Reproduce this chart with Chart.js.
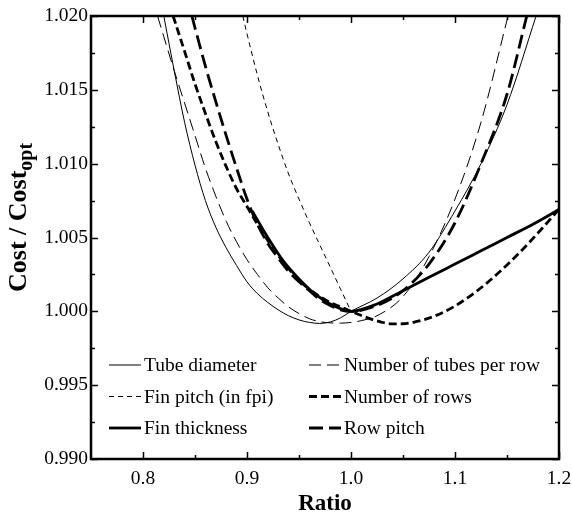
<!DOCTYPE html>
<html>
<head>
<meta charset="utf-8">
<script src="https://cdn.jsdelivr.net/npm/chart.js@4.4.1/dist/chart.umd.min.js"></script>
<style>
  html, body { margin: 0; padding: 0; background: #fff; }
  #wrap { width: 572px; height: 520px; }
</style>
</head>
<body>
<div id="wrap"><canvas id="chart" width="572" height="520"></canvas></div>
<script>
const seriesNames = ['Tube diameter', 'Number of tubes per row', 'Fin pitch (in fpi)', 'Number of rows', 'Fin thickness', 'Row pitch'];

const tubeDiameterRatio = [0.82, 0.83, 0.84, 0.85, 0.86, 0.87, 0.88, 0.89, 0.90, 0.91, 0.92, 0.93, 0.94, 0.95, 0.96, 0.97, 0.98, 0.99, 1.00, 1.025, 1.05, 1.075, 1.10, 1.125, 1.15, 1.178];
const tubeDiameterCost = [1.0200, 1.0163, 1.0128, 1.0099, 1.0075, 1.0057, 1.0043, 1.0031, 1.0020, 1.0012, 1.0006, 1.0001, 0.9997, 0.99942, 0.99925, 0.99918, 0.99928, 0.99956, 1.0000, 1.0009, 1.0022, 1.0040, 1.0068, 1.0100, 1.0140, 1.0200];

const tubesPerRowRatio = [0.814, 0.82, 0.83, 0.84, 0.85, 0.86, 0.87, 0.88, 0.89, 0.90, 0.91, 0.92, 0.93, 0.94, 0.95, 0.96, 0.97, 0.98, 0.99, 1.00, 1.01, 1.025, 1.05, 1.075, 1.10, 1.125, 1.151];
const tubesPerRowCost = [1.0200, 1.0186, 1.0163, 1.0141, 1.0119, 1.0097, 1.0078, 1.0061, 1.0047, 1.0035, 1.0025, 1.0016, 1.0009, 1.0003, 0.99985, 0.9995, 0.9993, 0.99922, 0.9992, 0.99925, 0.99937, 0.9997, 1.0010, 1.0037, 1.0076, 1.0128, 1.0200];

const finPitchRatio = [0.896, 0.90, 0.91, 0.92, 0.93, 0.94, 0.95, 0.96, 0.97, 0.98, 0.99, 1.00];
const finPitchCost = [1.0200, 1.0188, 1.0160, 1.0135, 1.0113, 1.0093, 1.0076, 1.0060, 1.0045, 1.0030, 1.0015, 1.0000];

const rowsRatio = [0.829, 0.84, 0.85, 0.86, 0.87, 0.88, 0.89, 0.90, 0.91, 0.92, 0.93, 0.94, 0.95, 0.96, 0.97, 0.98, 0.99, 1.00, 1.01, 1.02, 1.03, 1.04, 1.05, 1.06, 1.07, 1.08, 1.09, 1.10, 1.11, 1.12, 1.13, 1.14, 1.15, 1.16, 1.17, 1.18, 1.19, 1.20];
const rowsCost = [1.0200, 1.0176, 1.0154, 1.0134, 1.0115, 1.0098, 1.0083, 1.0071, 1.0059, 1.0048, 1.0038, 1.0029, 1.0021, 1.0015, 1.0010, 1.0006, 1.0003, 1.0000, 0.99972, 0.99946, 0.99926, 0.99915, 0.99916, 0.99926, 0.99943, 0.99967, 0.99998, 1.00036, 1.00081, 1.00132, 1.00188, 1.00249, 1.00314, 1.00383, 1.00456, 1.00532, 1.00611, 1.00693];

const finThicknessRatio = [0.905, 0.92, 0.935, 0.95, 0.965, 0.98, 1.00, 1.025, 1.05, 1.075, 1.10, 1.125, 1.15, 1.175, 1.20];
const finThicknessCost = [1.0068, 1.0050, 1.0034, 1.0022, 1.0012, 1.0005, 1.0000, 1.0005, 1.0014, 1.0023, 1.0032, 1.0041, 1.0050, 1.0059, 1.0069];

const rowPitchRatio = [0.847, 0.85, 0.86, 0.87, 0.88, 0.89, 0.90, 0.91, 0.92, 0.93, 0.94, 0.95, 0.96, 0.97, 0.98, 0.99, 1.00, 1.025, 1.05, 1.075, 1.10, 1.125, 1.15, 1.169];
const rowPitchCost = [1.0200, 1.0192, 1.0166, 1.0142, 1.0119, 1.0097, 1.0076, 1.0059, 1.0046, 1.0036, 1.0027, 1.0020, 1.0014, 1.0008, 1.0004, 1.0001, 1.0000, 1.0004, 1.0014, 1.0032, 1.0060, 1.0100, 1.0147, 1.0200];

const xTicks = [0.8, 0.9, 1.0, 1.1, 1.2];
const xMinorTicks = [0.85, 0.95, 1.05, 1.15];
const yTicks = [0.990, 0.995, 1.000, 1.005, 1.010, 1.015, 1.020];
const yMinorTicks = [0.9925, 0.9975, 1.0025, 1.0075, 1.0125, 1.0175];

// line looks, same order as seriesNames
const lineStyles = [
  { width: 1, dash: [] },
  { width: 1, dash: [12, 6] },
  { width: 1, dash: [5, 4] },
  { width: 2.8, dash: [8, 4] },
  { width: 2.8, dash: [] },
  { width: 2.8, dash: [14, 6] }
];

const serif = 'Liberation Serif, Times New Roman, serif';

function points(ratio, cost) {
  return ratio.map((r, i) => ({ x: r, y: cost[i] }));
}

const seriesData = [
  points(tubeDiameterRatio, tubeDiameterCost),
  points(tubesPerRowRatio, tubesPerRowCost),
  points(finPitchRatio, finPitchCost),
  points(rowsRatio, rowsCost),
  points(finThicknessRatio, finThicknessCost),
  points(rowPitchRatio, rowPitchCost)
];

const frameAndTicks = {
  id: 'frameAndTicks',
  afterDatasetsDraw(chart) {
    const { ctx, chartArea: a, scales: { x, y } } = chart;
    const seg = (x1, y1, x2, y2) => { ctx.beginPath(); ctx.moveTo(x1, y1); ctx.lineTo(x2, y2); ctx.stroke(); };
    ctx.save();
    ctx.strokeStyle = '#000';
    ctx.lineWidth = 1.5;
    ctx.setLineDash([]);
    const xMarks = (values, len) => values.forEach((v) => {
      const px = Math.round(x.getPixelForValue(v)) + 0.5;
      seg(px, a.bottom, px, a.bottom - len);
      seg(px, a.top, px, a.top + len);
    });
    const yMarks = (values, len) => values.forEach((v) => {
      const py = Math.round(y.getPixelForValue(v)) + 0.5;
      seg(a.left, py, a.left + len, py);
      seg(a.right, py, a.right - len, py);
    });
    xMarks(xTicks, 7);
    xMarks(xMinorTicks, 4);
    yMarks(yTicks, 7);
    yMarks(yMinorTicks, 4);
    ctx.lineWidth = 2.5;
    ctx.strokeRect(a.left, a.top, a.right - a.left, a.bottom - a.top);
    ctx.restore();
  }
};

const yTitle = {
  id: 'yTitle',
  afterDraw(chart) {
    const { ctx, chartArea: a } = chart;
    const main = 'Cost / Cost';
    const sub = 'opt';
    ctx.save();
    ctx.fillStyle = '#000';
    ctx.textBaseline = 'alphabetic';
    ctx.font = `bold 26px ${serif}`;
    const wMain = ctx.measureText(main).width;
    ctx.translate(26, a.bottom - 167);
    ctx.rotate(-Math.PI / 2);
    ctx.fillText(main, 0, 0);
    ctx.font = `bold 20px ${serif}`;
    ctx.fillText(sub, wMain, 6);
    ctx.restore();
  }
};

const boxLegend = {
  id: 'boxLegend',
  afterDraw(chart, args, opts) {
    const { ctx, chartArea: a } = chart;
    ctx.save();
    ctx.fillStyle = '#000';
    ctx.strokeStyle = '#000';
    ctx.font = `19.5px ${serif}`;
    ctx.textBaseline = 'middle';
    chart.data.datasets.forEach((ds, i) => {
      const col = i % 2;
      const row = Math.floor(i / 2);
      const x0 = a.left + opts.colOffsets[col];
      const yy = a.top + opts.firstRow + row * opts.rowGap;
      ctx.lineWidth = ds.borderWidth;
      ctx.setLineDash(ds.borderDash);
      ctx.beginPath();
      ctx.moveTo(x0, yy);
      ctx.lineTo(x0 + opts.lineLength, yy);
      ctx.stroke();
      ctx.setLineDash([]);
      ctx.fillText(ds.label, x0 + opts.lineLength + 3, yy + 1);
    });
    ctx.restore();
  }
};

new Chart(document.getElementById('chart'), {
  type: 'line',
  data: {
    datasets: seriesNames.map((name, i) => ({
      label: name,
      data: seriesData[i],
      borderColor: '#000',
      borderWidth: lineStyles[i].width,
      borderDash: lineStyles[i].dash,
      pointRadius: 0,
      fill: false,
      cubicInterpolationMode: 'monotone'
    }))
  },
  options: {
    responsive: false,
    animation: false,
    layout: { padding: { top: 16, right: 13, left: 0, bottom: 0 } },
    plugins: {
      legend: { display: false },
      tooltip: { enabled: false },
      boxLegend: { colOffsets: [18, 218], firstRow: 349, rowGap: 31.5, lineLength: 32 }
    },
    scales: {
      x: {
        type: 'linear',
        min: 0.75,
        max: 1.2,
        afterBuildTicks: (scale) => { scale.ticks = xTicks.map((v) => ({ value: v })); },
        afterFit: (scale) => { scale.height = 61; scale.paddingLeft = 0; scale.paddingRight = 0; },
        grid: { display: false, drawTicks: false },
        border: { display: false },
        ticks: { color: '#000', padding: 8, font: { family: serif, size: 19.5 }, callback: (v) => Number(v).toFixed(1) },
        title: { display: true, text: 'Ratio', color: '#000', font: { family: serif, size: 23, weight: 'bold' }, padding: { top: 0, bottom: 2 } }
      },
      y: {
        min: 0.99,
        max: 1.02,
        afterBuildTicks: (scale) => { scale.ticks = yTicks.map((v) => ({ value: v })); },
        afterFit: (scale) => { scale.width = 91; scale.paddingTop = 0; scale.paddingBottom = 0; },
        grid: { display: false, drawTicks: false },
        border: { display: false },
        ticks: { color: '#000', padding: 3, font: { family: serif, size: 19.5 }, callback: (v) => Number(v).toFixed(3) }
      }
    }
  },
  plugins: [frameAndTicks, yTitle, boxLegend]
});
</script>
</body>
</html>
